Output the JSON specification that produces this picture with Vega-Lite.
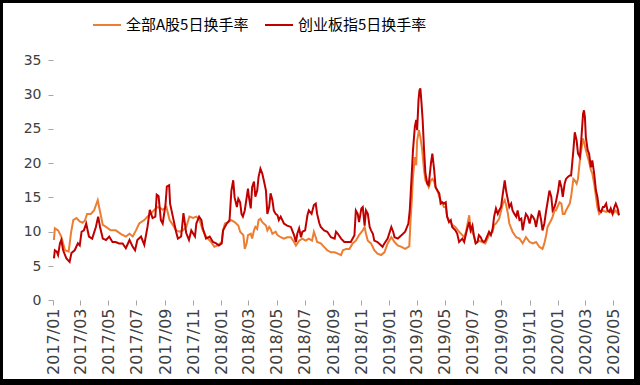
{
  "$schema": "https://vega.github.io/schema/vega-lite/v6.json",
  "width": 637,
  "height": 382,
  "autosize": {"type": "none"},
  "padding": {"left": 0, "top": 0, "right": 3, "bottom": 3},
  "background": "white",
  "config": {
    "view": {"stroke": "#000000", "strokeWidth": 6},
    "axisX": {
      "orient": "bottom", "offset": -82, "format": "%Y/%m", "labelAngle": 270, "labelAlign": "right", "labelBaseline": "middle",
      "domain": false, "grid": false, "ticks": true, "tickSize": 5, "tickColor": "#A6A6A6",
      "labelFont": "DejaVu Sans", "labelFontSize": 16, "labelColor": "#404040",
      "labelPadding": 3, "labelOverlap": false, "labelFlush": false, "labelBound": false, "title": null
    }
  },
  "datasets": {
    "grid": [{"g": 5}, {"g": 10}, {"g": 15}, {"g": 20}, {"g": 25}, {"g": 30}, {"g": 35}],
    "all": [
      {"d":"2017-01-03","v":8.8},{"d":"2017-01-05","v":10.5},{"d":"2017-01-12","v":10.2},{"d":"2017-01-19","v":9.3},{"d":"2017-01-27","v":7.3},{"d":"2017-02-04","v":7.1},{"d":"2017-02-09","v":9.8},{"d":"2017-02-14","v":11.7},{"d":"2017-02-21","v":12.0},{"d":"2017-02-28","v":11.5},{"d":"2017-03-06","v":11.3},{"d":"2017-03-11","v":11.6},{"d":"2017-03-16","v":12.6},{"d":"2017-03-24","v":12.6},{"d":"2017-03-31","v":13.1},{"d":"2017-04-08","v":14.6},{"d":"2017-04-11","v":13.6},{"d":"2017-04-19","v":11.0},{"d":"2017-04-26","v":10.7},{"d":"2017-05-06","v":10.2},{"d":"2017-05-17","v":10.2},{"d":"2017-05-28","v":9.7},{"d":"2017-06-08","v":9.3},{"d":"2017-06-16","v":9.7},{"d":"2017-06-23","v":9.3},{"d":"2017-06-30","v":10.2},{"d":"2017-07-07","v":11.2},{"d":"2017-07-18","v":11.7},{"d":"2017-07-25","v":12.2},{"d":"2017-08-02","v":12.7},{"d":"2017-08-09","v":13.2},{"d":"2017-08-16","v":13.6},{"d":"2017-08-23","v":13.4},{"d":"2017-08-27","v":13.2},{"d":"2017-09-04","v":13.6},{"d":"2017-09-11","v":11.7},{"d":"2017-09-18","v":11.0},{"d":"2017-09-25","v":10.2},{"d":"2017-10-03","v":10.0},{"d":"2017-10-10","v":10.2},{"d":"2017-10-17","v":10.7},{"d":"2017-10-24","v":12.2},{"d":"2017-11-01","v":12.0},{"d":"2017-11-08","v":12.2},{"d":"2017-11-15","v":11.7},{"d":"2017-11-22","v":10.2},{"d":"2017-11-29","v":9.3},{"d":"2017-12-10","v":8.5},{"d":"2017-12-17","v":7.8},{"d":"2017-12-24","v":8.0},
      {"d":"2018-01-02","v":8.5},{"d":"2018-01-05","v":10.2},{"d":"2018-01-09","v":11.2},{"d":"2018-01-16","v":11.4},{"d":"2018-01-23","v":11.7},{"d":"2018-01-30","v":11.4},{"d":"2018-02-07","v":10.9},{"d":"2018-02-11","v":10.0},{"d":"2018-02-18","v":9.5},{"d":"2018-02-21","v":7.5},{"d":"2018-02-25","v":8.3},{"d":"2018-02-28","v":9.5},{"d":"2018-03-06","v":9.7},{"d":"2018-03-09","v":9.0},{"d":"2018-03-13","v":10.2},{"d":"2018-03-16","v":10.7},{"d":"2018-03-20","v":10.4},{"d":"2018-03-23","v":11.7},{"d":"2018-03-27","v":11.9},{"d":"2018-03-31","v":11.4},{"d":"2018-04-08","v":10.9},{"d":"2018-04-11","v":10.2},{"d":"2018-04-15","v":10.7},{"d":"2018-04-18","v":10.4},{"d":"2018-04-22","v":9.7},{"d":"2018-04-29","v":10.0},{"d":"2018-05-03","v":9.5},{"d":"2018-05-10","v":9.2},{"d":"2018-05-17","v":9.0},{"d":"2018-05-24","v":9.2},{"d":"2018-06-01","v":9.2},{"d":"2018-06-08","v":8.5},{"d":"2018-06-12","v":8.0},{"d":"2018-06-19","v":8.7},{"d":"2018-06-26","v":9.0},{"d":"2018-07-03","v":8.7},{"d":"2018-07-10","v":9.0},{"d":"2018-07-17","v":8.7},{"d":"2018-07-21","v":10.0},{"d":"2018-07-25","v":9.2},{"d":"2018-07-28","v":8.5},{"d":"2018-08-05","v":8.3},{"d":"2018-08-12","v":7.8},{"d":"2018-08-19","v":7.3},{"d":"2018-08-27","v":7.0},{"d":"2018-09-04","v":7.0},{"d":"2018-09-11","v":6.8},{"d":"2018-09-18","v":6.6},{"d":"2018-09-22","v":7.3},{"d":"2018-09-29","v":7.5},{"d":"2018-10-06","v":7.5},{"d":"2018-10-13","v":8.3},{"d":"2018-10-20","v":8.7},{"d":"2018-10-27","v":9.5},{"d":"2018-11-04","v":10.2},{"d":"2018-11-08","v":10.7},{"d":"2018-11-11","v":9.7},{"d":"2018-11-15","v":8.7},{"d":"2018-11-22","v":8.3},{"d":"2018-11-29","v":7.3},{"d":"2018-12-06","v":6.8},{"d":"2018-12-14","v":6.6},{"d":"2018-12-21","v":7.0},{"d":"2018-12-28","v":8.3},
      {"d":"2019-01-05","v":9.2},{"d":"2019-01-12","v":8.5},{"d":"2019-01-19","v":8.0},{"d":"2019-01-27","v":7.8},{"d":"2019-02-04","v":7.5},{"d":"2019-02-11","v":7.8},{"d":"2019-02-13","v":7.9},{"d":"2019-02-16","v":12.0},{"d":"2019-02-18","v":14.1},{"d":"2019-02-21","v":18.0},{"d":"2019-02-25","v":20.9},{"d":"2019-02-28","v":19.7},{"d":"2019-03-02","v":23.3},{"d":"2019-03-06","v":24.8},{"d":"2019-03-09","v":23.8},{"d":"2019-03-13","v":21.9},{"d":"2019-03-17","v":19.0},{"d":"2019-03-20","v":17.5},{"d":"2019-03-24","v":17.0},{"d":"2019-03-27","v":16.5},{"d":"2019-04-01","v":17.5},{"d":"2019-04-04","v":17.7},{"d":"2019-04-08","v":17.3},{"d":"2019-04-11","v":16.5},{"d":"2019-04-15","v":16.0},{"d":"2019-04-19","v":15.1},{"d":"2019-04-22","v":14.6},{"d":"2019-04-26","v":14.1},{"d":"2019-04-29","v":13.6},{"d":"2019-05-03","v":13.6},{"d":"2019-05-06","v":12.2},{"d":"2019-05-10","v":11.7},{"d":"2019-05-17","v":11.0},{"d":"2019-05-24","v":10.7},{"d":"2019-06-01","v":10.0},{"d":"2019-06-08","v":9.5},{"d":"2019-06-12","v":9.2},{"d":"2019-06-16","v":10.0},{"d":"2019-06-23","v":12.4},{"d":"2019-06-26","v":10.4},{"d":"2019-07-03","v":9.5},{"d":"2019-07-07","v":8.3},{"d":"2019-07-14","v":8.7},{"d":"2019-07-21","v":8.5},{"d":"2019-07-28","v":8.3},{"d":"2019-08-05","v":9.5},{"d":"2019-08-13","v":10.0},{"d":"2019-08-16","v":11.0},{"d":"2019-08-20","v":11.2},{"d":"2019-08-27","v":11.9},{"d":"2019-09-04","v":14.1},{"d":"2019-09-08","v":14.6},{"d":"2019-09-11","v":13.9},{"d":"2019-09-15","v":12.6},{"d":"2019-09-18","v":11.2},{"d":"2019-09-25","v":10.0},{"d":"2019-10-03","v":9.2},{"d":"2019-10-10","v":9.0},{"d":"2019-10-17","v":8.3},{"d":"2019-10-24","v":9.2},{"d":"2019-11-01","v":8.5},{"d":"2019-11-08","v":8.3},{"d":"2019-11-15","v":8.5},{"d":"2019-11-22","v":7.8},{"d":"2019-11-29","v":7.5},{"d":"2019-12-03","v":8.3},{"d":"2019-12-07","v":9.5},{"d":"2019-12-10","v":10.7},{"d":"2019-12-14","v":11.2},{"d":"2019-12-18","v":11.7},{"d":"2019-12-21","v":12.2},{"d":"2019-12-25","v":13.1},{"d":"2019-12-28","v":13.1},
      {"d":"2020-01-05","v":14.3},{"d":"2020-01-09","v":14.1},{"d":"2020-01-12","v":12.6},{"d":"2020-01-16","v":12.6},{"d":"2020-01-19","v":13.1},{"d":"2020-01-23","v":13.6},{"d":"2020-01-27","v":14.1},{"d":"2020-01-30","v":15.1},{"d":"2020-02-04","v":17.7},{"d":"2020-02-07","v":17.5},{"d":"2020-02-11","v":17.0},{"d":"2020-02-14","v":17.7},{"d":"2020-02-18","v":20.4},{"d":"2020-02-21","v":21.9},{"d":"2020-02-25","v":23.6},{"d":"2020-02-28","v":22.8},{"d":"2020-03-02","v":21.9},{"d":"2020-03-06","v":20.9},{"d":"2020-03-09","v":20.2},{"d":"2020-03-13","v":19.0},{"d":"2020-03-16","v":18.5},{"d":"2020-03-20","v":17.0},{"d":"2020-03-24","v":15.1},{"d":"2020-03-27","v":13.6},{"d":"2020-03-31","v":12.6},{"d":"2020-04-04","v":12.9},{"d":"2020-04-08","v":13.1},{"d":"2020-04-15","v":12.9},{"d":"2020-04-22","v":13.1},{"d":"2020-04-29","v":12.6},{"d":"2020-05-06","v":13.1},{"d":"2020-05-13","v":12.4}
    ],
    "cyb": [
      {"d":"2017-01-03","v":6.1},{"d":"2017-01-05","v":7.3},{"d":"2017-01-09","v":7.1},{"d":"2017-01-12","v":6.6},{"d":"2017-01-16","v":8.3},{"d":"2017-01-19","v":8.8},{"d":"2017-01-23","v":7.3},{"d":"2017-01-30","v":6.1},{"d":"2017-02-06","v":5.6},{"d":"2017-02-10","v":6.9},{"d":"2017-02-17","v":7.3},{"d":"2017-02-24","v":8.3},{"d":"2017-02-28","v":8.0},{"d":"2017-03-04","v":10.0},{"d":"2017-03-09","v":10.2},{"d":"2017-03-14","v":11.2},{"d":"2017-03-20","v":9.3},{"d":"2017-03-27","v":9.0},{"d":"2017-04-04","v":10.7},{"d":"2017-04-09","v":12.2},{"d":"2017-04-13","v":10.7},{"d":"2017-04-19","v":9.0},{"d":"2017-04-26","v":8.8},{"d":"2017-05-03","v":9.3},{"d":"2017-05-10","v":8.5},{"d":"2017-05-17","v":8.5},{"d":"2017-05-24","v":8.3},{"d":"2017-06-01","v":8.3},{"d":"2017-06-08","v":7.6},{"d":"2017-06-16","v":8.8},{"d":"2017-06-23","v":7.8},{"d":"2017-06-28","v":7.3},{"d":"2017-07-03","v":8.8},{"d":"2017-07-11","v":9.3},{"d":"2017-07-18","v":8.1},{"d":"2017-07-25","v":10.7},{"d":"2017-07-30","v":13.2},{"d":"2017-08-05","v":12.0},{"d":"2017-08-11","v":12.2},{"d":"2017-08-14","v":15.4},{"d":"2017-08-18","v":15.2},{"d":"2017-08-23","v":11.7},{"d":"2017-08-27","v":11.2},{"d":"2017-09-02","v":13.9},{"d":"2017-09-05","v":16.6},{"d":"2017-09-10","v":16.8},{"d":"2017-09-12","v":14.1},{"d":"2017-09-18","v":12.2},{"d":"2017-09-25","v":10.0},{"d":"2017-09-29","v":9.0},{"d":"2017-10-06","v":9.3},{"d":"2017-10-11","v":12.7},{"d":"2017-10-17","v":9.8},{"d":"2017-10-23","v":8.8},{"d":"2017-10-28","v":10.2},{"d":"2017-11-05","v":9.3},{"d":"2017-11-08","v":11.2},{"d":"2017-11-14","v":12.2},{"d":"2017-11-19","v":11.7},{"d":"2017-11-22","v":10.5},{"d":"2017-11-29","v":9.0},{"d":"2017-12-07","v":9.3},{"d":"2017-12-14","v":8.5},{"d":"2017-12-21","v":8.3},{"d":"2017-12-27","v":8.0},
      {"d":"2018-01-02","v":8.3},{"d":"2018-01-05","v":10.2},{"d":"2018-01-12","v":11.1},{"d":"2018-01-19","v":11.7},{"d":"2018-01-23","v":16.0},{"d":"2018-01-27","v":17.5},{"d":"2018-01-30","v":15.0},{"d":"2018-02-04","v":13.6},{"d":"2018-02-07","v":14.8},{"d":"2018-02-11","v":14.3},{"d":"2018-02-14","v":12.6},{"d":"2018-02-17","v":12.2},{"d":"2018-02-21","v":13.1},{"d":"2018-02-28","v":16.3},{"d":"2018-03-02","v":15.1},{"d":"2018-03-06","v":13.4},{"d":"2018-03-09","v":16.5},{"d":"2018-03-13","v":17.3},{"d":"2018-03-16","v":15.1},{"d":"2018-03-20","v":16.0},{"d":"2018-03-23","v":18.0},{"d":"2018-03-27","v":19.2},{"d":"2018-03-31","v":18.5},{"d":"2018-04-04","v":17.3},{"d":"2018-04-08","v":16.0},{"d":"2018-04-11","v":12.6},{"d":"2018-04-15","v":13.6},{"d":"2018-04-18","v":15.6},{"d":"2018-04-22","v":14.6},{"d":"2018-04-25","v":13.1},{"d":"2018-04-29","v":12.6},{"d":"2018-05-03","v":12.4},{"d":"2018-05-06","v":11.7},{"d":"2018-05-10","v":12.2},{"d":"2018-05-17","v":11.2},{"d":"2018-05-24","v":10.9},{"d":"2018-06-01","v":10.7},{"d":"2018-06-08","v":9.5},{"d":"2018-06-12","v":8.5},{"d":"2018-06-15","v":9.7},{"d":"2018-06-19","v":10.5},{"d":"2018-06-23","v":9.2},{"d":"2018-06-26","v":10.0},{"d":"2018-07-02","v":10.2},{"d":"2018-07-07","v":12.4},{"d":"2018-07-10","v":13.1},{"d":"2018-07-16","v":12.6},{"d":"2018-07-21","v":13.9},{"d":"2018-07-25","v":14.1},{"d":"2018-07-28","v":12.6},{"d":"2018-08-02","v":11.2},{"d":"2018-08-05","v":10.7},{"d":"2018-08-12","v":10.2},{"d":"2018-08-19","v":10.0},{"d":"2018-08-27","v":9.2},{"d":"2018-09-04","v":9.0},{"d":"2018-09-07","v":10.0},{"d":"2018-09-11","v":9.7},{"d":"2018-09-18","v":9.0},{"d":"2018-09-25","v":8.5},{"d":"2018-10-03","v":8.5},{"d":"2018-10-09","v":8.5},{"d":"2018-10-17","v":9.5},{"d":"2018-10-20","v":13.1},{"d":"2018-10-24","v":12.6},{"d":"2018-10-27","v":11.4},{"d":"2018-11-01","v":13.4},{"d":"2018-11-04","v":13.6},{"d":"2018-11-08","v":10.9},{"d":"2018-11-11","v":13.1},{"d":"2018-11-15","v":12.6},{"d":"2018-11-19","v":10.7},{"d":"2018-11-22","v":10.2},{"d":"2018-11-26","v":9.7},{"d":"2018-11-29","v":8.7},{"d":"2018-12-06","v":8.5},{"d":"2018-12-14","v":8.0},{"d":"2018-12-17","v":7.8},{"d":"2018-12-21","v":8.3},{"d":"2018-12-28","v":9.0},
      {"d":"2019-01-05","v":10.7},{"d":"2019-01-09","v":10.0},{"d":"2019-01-12","v":9.2},{"d":"2019-01-19","v":9.0},{"d":"2019-01-27","v":9.5},{"d":"2019-02-04","v":10.0},{"d":"2019-02-11","v":11.2},{"d":"2019-02-14","v":13.1},{"d":"2019-02-18","v":18.0},{"d":"2019-02-21","v":21.9},{"d":"2019-02-25","v":25.3},{"d":"2019-02-28","v":26.3},{"d":"2019-03-02","v":24.8},{"d":"2019-03-05","v":29.2},{"d":"2019-03-07","v":30.6},{"d":"2019-03-09","v":30.9},{"d":"2019-03-11","v":29.2},{"d":"2019-03-14","v":26.3},{"d":"2019-03-17","v":21.9},{"d":"2019-03-20","v":18.5},{"d":"2019-03-24","v":17.0},{"d":"2019-03-27","v":16.8},{"d":"2019-04-01","v":20.0},{"d":"2019-04-04","v":21.4},{"d":"2019-04-08","v":19.0},{"d":"2019-04-11","v":16.5},{"d":"2019-04-15","v":16.0},{"d":"2019-04-19","v":15.6},{"d":"2019-04-22","v":14.1},{"d":"2019-04-26","v":14.3},{"d":"2019-04-29","v":14.1},{"d":"2019-05-03","v":14.3},{"d":"2019-05-06","v":12.2},{"d":"2019-05-10","v":11.4},{"d":"2019-05-14","v":11.7},{"d":"2019-05-17","v":10.7},{"d":"2019-05-24","v":10.2},{"d":"2019-05-28","v":9.7},{"d":"2019-06-01","v":8.5},{"d":"2019-06-08","v":9.0},{"d":"2019-06-12","v":8.5},{"d":"2019-06-16","v":9.7},{"d":"2019-06-19","v":10.5},{"d":"2019-06-23","v":11.4},{"d":"2019-06-26","v":10.2},{"d":"2019-06-30","v":10.9},{"d":"2019-07-03","v":9.5},{"d":"2019-07-07","v":8.3},{"d":"2019-07-11","v":8.5},{"d":"2019-07-14","v":9.5},{"d":"2019-07-18","v":9.2},{"d":"2019-07-21","v":8.7},{"d":"2019-07-25","v":8.5},{"d":"2019-07-28","v":8.7},{"d":"2019-08-05","v":10.0},{"d":"2019-08-09","v":9.5},{"d":"2019-08-13","v":10.5},{"d":"2019-08-16","v":12.2},{"d":"2019-08-20","v":13.4},{"d":"2019-08-24","v":12.6},{"d":"2019-08-27","v":13.1},{"d":"2019-08-31","v":13.6},{"d":"2019-09-04","v":15.6},{"d":"2019-09-08","v":17.5},{"d":"2019-09-11","v":16.0},{"d":"2019-09-15","v":14.6},{"d":"2019-09-18","v":13.6},{"d":"2019-09-22","v":14.1},{"d":"2019-09-25","v":13.1},{"d":"2019-09-29","v":12.6},{"d":"2019-10-03","v":12.2},{"d":"2019-10-06","v":13.1},{"d":"2019-10-10","v":11.7},{"d":"2019-10-14","v":11.9},{"d":"2019-10-17","v":10.2},{"d":"2019-10-21","v":11.7},{"d":"2019-10-24","v":12.6},{"d":"2019-10-28","v":12.2},{"d":"2019-11-01","v":11.2},{"d":"2019-11-05","v":12.4},{"d":"2019-11-08","v":12.2},{"d":"2019-11-12","v":11.7},{"d":"2019-11-15","v":10.7},{"d":"2019-11-19","v":12.2},{"d":"2019-11-22","v":13.1},{"d":"2019-11-26","v":11.7},{"d":"2019-11-29","v":10.2},{"d":"2019-12-03","v":11.2},{"d":"2019-12-07","v":13.1},{"d":"2019-12-10","v":14.3},{"d":"2019-12-14","v":16.0},{"d":"2019-12-18","v":15.1},{"d":"2019-12-21","v":13.1},{"d":"2019-12-25","v":13.6},{"d":"2019-12-28","v":14.3},
      {"d":"2020-01-02","v":16.0},{"d":"2020-01-05","v":17.5},{"d":"2020-01-09","v":16.5},{"d":"2020-01-12","v":15.1},{"d":"2020-01-16","v":17.0},{"d":"2020-01-19","v":17.7},{"d":"2020-01-23","v":18.0},{"d":"2020-01-27","v":18.2},{"d":"2020-01-30","v":18.2},{"d":"2020-02-04","v":21.9},{"d":"2020-02-07","v":24.5},{"d":"2020-02-11","v":23.3},{"d":"2020-02-14","v":21.4},{"d":"2020-02-18","v":20.9},{"d":"2020-02-21","v":23.3},{"d":"2020-02-25","v":27.2},{"d":"2020-02-27","v":27.7},{"d":"2020-02-29","v":26.7},{"d":"2020-03-02","v":23.8},{"d":"2020-03-06","v":21.9},{"d":"2020-03-09","v":21.4},{"d":"2020-03-13","v":19.4},{"d":"2020-03-16","v":20.4},{"d":"2020-03-20","v":18.5},{"d":"2020-03-24","v":16.0},{"d":"2020-03-27","v":15.1},{"d":"2020-03-31","v":13.1},{"d":"2020-04-04","v":12.9},{"d":"2020-04-08","v":13.6},{"d":"2020-04-11","v":13.6},{"d":"2020-04-15","v":14.1},{"d":"2020-04-18","v":13.1},{"d":"2020-04-22","v":12.9},{"d":"2020-04-25","v":13.4},{"d":"2020-04-29","v":12.6},{"d":"2020-05-03","v":13.6},{"d":"2020-05-06","v":14.1},{"d":"2020-05-10","v":13.4},{"d":"2020-05-13","v":12.4}
    ]
  },
  "encoding": {
    "x": {
      "field": "d", "type": "temporal",
      "scale": {"domain": [{"year": 2016, "month": 9, "date": 8}, {"year": 2020, "month": 6, "date": 21}], "nice": false},
      "axis": {
        "labelOverlap": false,
        "values": [
          {"year": 2017, "month": 1, "date": 1}, {"year": 2017, "month": 3, "date": 1}, {"year": 2017, "month": 5, "date": 1}, {"year": 2017, "month": 7, "date": 1}, {"year": 2017, "month": 9, "date": 1}, {"year": 2017, "month": 11, "date": 1},
          {"year": 2018, "month": 1, "date": 1}, {"year": 2018, "month": 3, "date": 1}, {"year": 2018, "month": 5, "date": 1}, {"year": 2018, "month": 7, "date": 1}, {"year": 2018, "month": 9, "date": 1}, {"year": 2018, "month": 11, "date": 1},
          {"year": 2019, "month": 1, "date": 1}, {"year": 2019, "month": 3, "date": 1}, {"year": 2019, "month": 5, "date": 1}, {"year": 2019, "month": 7, "date": 1}, {"year": 2019, "month": 9, "date": 1}, {"year": 2019, "month": 11, "date": 1},
          {"year": 2020, "month": 1, "date": 1}, {"year": 2020, "month": 3, "date": 1}, {"year": 2020, "month": 5, "date": 1}
        ]
      }
    },
    "y": {
      "field": "v", "type": "quantitative",
      "scale": {"domain": [-11.91, 43.79], "nice": false, "zero": false},
      "axis": {
        "orient": "left", "offset": -53, "values": [0, 5, 10, 15, 20, 25, 30, 35],
        "domain": false, "grid": false, "ticks": true, "tickSize": 5, "tickColor": "#A6A6A6",
        "labelFont": "DejaVu Sans", "labelFontSize": 14, "labelColor": "#404040",
        "labelPadding": 7, "title": null
      }
    }
  },
  "layer": [
    {
      "data": {"name": "grid"},
      "mark": {"type": "rule", "color": "#C0C0C0", "strokeWidth": 1.5},
      "encoding": {
        "y": {"field": "g", "type": "quantitative"},
        "x": {"datum": {"year": 2017, "month": 1, "date": 1}, "type": "temporal"},
        "x2": {"datum": {"year": 2020, "month": 5, "date": 15}}
      }
    },
    {
      "data": {"values": [{"z": 0}]},
      "mark": {"type": "rule", "color": "#A6A6A6", "strokeWidth": 1},
      "encoding": {
        "x": {"datum": {"year": 2017, "month": 1, "date": 1}, "type": "temporal"},
        "x2": {"datum": {"year": 2020, "month": 5, "date": 15}},
        "y": {"field": "z", "type": "quantitative"}
      }
    },
    {
      "data": {"values": [{"z": 0, "z2": 35}]},
      "mark": {"type": "rule", "color": "#A6A6A6", "strokeWidth": 1},
      "encoding": {
        "x": {"datum": {"year": 2017, "month": 1, "date": 1}, "type": "temporal"},
        "y": {"field": "z", "type": "quantitative"},
        "y2": {"field": "z2"}
      }
    },
    {
      "data": {"name": "all"},
      "mark": {"type": "line", "strokeWidth": 2, "interpolate": "linear"},
      "encoding": {
        "color": {
          "datum": "全部A股5日换手率",
          "scale": {"domain": ["全部A股5日换手率", "创业板指5日换手率"], "range": ["#ED7D31", "#C00000"]},
          "legend": {
            "orient": "none", "legendX": 92, "legendY": 10, "direction": "horizontal", "title": null,
            "symbolType": "stroke", "symbolSize": 784, "symbolStrokeWidth": 2,
            "labelFont": "Noto Sans CJK SC", "labelFontSize": 15, "labelColor": "#000000",
            "labelOffset": 4, "columnPadding": 12, "padding": 0, "labelLimit": 300
          }
        }
      }
    },
    {
      "data": {"name": "cyb"},
      "mark": {"type": "line", "strokeWidth": 2, "interpolate": "linear"},
      "encoding": {
        "color": {"datum": "创业板指5日换手率"}
      }
    }
  ]
}
